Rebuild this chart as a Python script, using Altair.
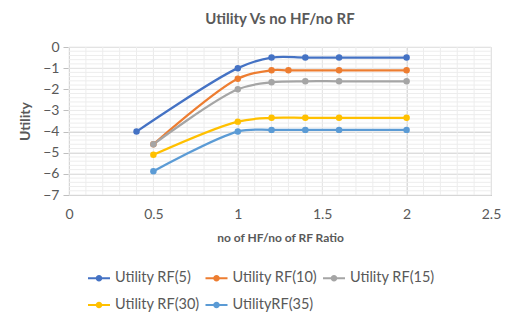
import altair as alt
import pandas as pd

series_names = ["Utility RF(5)", "Utility RF(10)", "Utility RF(15)", "Utility RF(30)", "UtilityRF(35)"]
colors = ["#4472C4", "#ED7D31", "#A5A5A5", "#FFC000", "#5B9BD5"]

x_rf5 = [0.4, 1.0, 1.2, 1.4, 1.6, 2.0]
y_rf5 = [-4.0, -1.0, -0.5, -0.5, -0.5, -0.5]
x_rf10 = [0.5, 1.0, 1.2, 1.3, 1.6, 2.0]
y_rf10 = [-4.6, -1.5, -1.1, -1.1, -1.1, -1.1]
x_rf15 = [0.5, 1.0, 1.2, 1.4, 1.6, 2.0]
y_rf15 = [-4.6, -2.0, -1.67, -1.62, -1.62, -1.62]
x_rf30 = [0.5, 1.0, 1.2, 1.4, 1.6, 2.0]
y_rf30 = [-5.1, -3.53, -3.35, -3.35, -3.35, -3.35]
x_rf35 = [0.5, 1.0, 1.2, 1.4, 1.6, 2.0]
y_rf35 = [-5.88, -4.0, -3.92, -3.92, -3.92, -3.92]

x_major = [0, 0.5, 1, 1.5, 2, 2.5]
y_major = [0, -1, -2, -3, -4, -5, -6, -7]
x_minor = [i / 10 for i in range(0, 26)]
y_minor = [-i / 5 for i in range(0, 36)]

rows = []
for name, xs, ys in zip(series_names,
                        [x_rf5, x_rf10, x_rf15, x_rf30, x_rf35],
                        [y_rf5, y_rf10, y_rf15, y_rf30, y_rf35]):
    for i, (a, b) in enumerate(zip(xs, ys)):
        rows.append({"series": name, "x": a, "y": b, "order": i})
df = pd.DataFrame(rows)
df_xminor = pd.DataFrame({"x": x_minor})
df_yminor = pd.DataFrame({"y": y_minor})

FONT = "Lato"
xscale = alt.Scale(domain=[0, 2.5], nice=False, zero=False)
yscale = alt.Scale(domain=[-7, 0], nice=False, zero=False)
cscale = alt.Scale(domain=series_names, range=colors)

xaxis = alt.Axis(values=x_major, grid=True, gridColor="#D9D9D9",
                 labelFont=FONT, labelFontSize=14, labelColor="#595959",
                 labelPadding=12, ticks=False, domainColor="#BFBFBF",
                 title="no of HF/no of RF Ratio", titleFont=FONT,
                 titleFontSize=12, titleFontWeight="bold",
                 titleColor="#595959", titlePadding=11,
                 labelFlush=False, format="~g")
yaxis = alt.Axis(values=y_major, grid=True, gridColor="#D9D9D9",
                 labelFont=FONT, labelFontSize=14, labelColor="#595959",
                 labelPadding=4, ticks=True, tickSize=6, tickColor="#BFBFBF",
                 domainColor="#BFBFBF",
                 title="Utility", titleFont=FONT,
                 titleFontSize=14, titleFontWeight="bold",
                 titleColor="#595959", titlePadding=10,
                 labelFlush=False, format="~g")

minor_x = alt.Chart(df_xminor).mark_rule(color="#EDEDED", strokeWidth=1).encode(
    x=alt.X("x:Q", scale=xscale, axis=xaxis),
)
minor_y = alt.Chart(df_yminor).mark_rule(color="#EDEDED", strokeWidth=1).encode(
    y=alt.Y("y:Q", scale=yscale, axis=yaxis),
)

lines = alt.Chart(df).mark_line(interpolate="catmull-rom", strokeWidth=2.25).encode(
    x=alt.X("x:Q", scale=xscale, axis=xaxis),
    y=alt.Y("y:Q", scale=yscale, axis=yaxis),
    color=alt.Color("series:N", scale=cscale, legend=None),
    order="order:Q",
)

legend_path = ("M-1,-0.09 L1,-0.09 L1,0.09 L-1,0.09 Z "
               "M0.3,0 A0.3,0.3 0 1,1 -0.3,0 A0.3,0.3 0 1,1 0.3,0 Z")

points = alt.Chart(df).mark_point(filled=True, size=42, opacity=1).encode(
    x=alt.X("x:Q", scale=xscale, axis=xaxis),
    y=alt.Y("y:Q", scale=yscale, axis=yaxis),
    fill=alt.Fill("series:N", scale=cscale,
                  legend=alt.Legend(title=None, orient="none", legendX=19, legendY=220,
                                    columns=3, direction="horizontal",
                                    symbolType=legend_path, symbolSize=484,
                                    symbolStrokeWidth=0, symbolOpacity=1,
                                    labelFont=FONT, labelFontSize=14.5, labelColor="#595959",
                                    labelOffset=5, columnPadding=5.5, rowPadding=9,
                                    gridAlign="all", labelLimit=200)),
)

chart = alt.layer(minor_x, minor_y, lines, points).resolve_legend(
    color="independent", fill="independent").properties(
    width=422, height=148,
    title=alt.TitleParams("Utility Vs no HF/no RF", font=FONT, fontSize=15, fontWeight="bold",
                          color="#595959", anchor="middle", offset=13),
    autosize=alt.AutoSizeParams(type="none"),
    padding={"left": 61, "top": 39, "right": 18, "bottom": 120},
).configure_view(stroke=None).configure(background="white")

chart.save("out.html", embed_options={"renderer": "svg", "actions": False})
